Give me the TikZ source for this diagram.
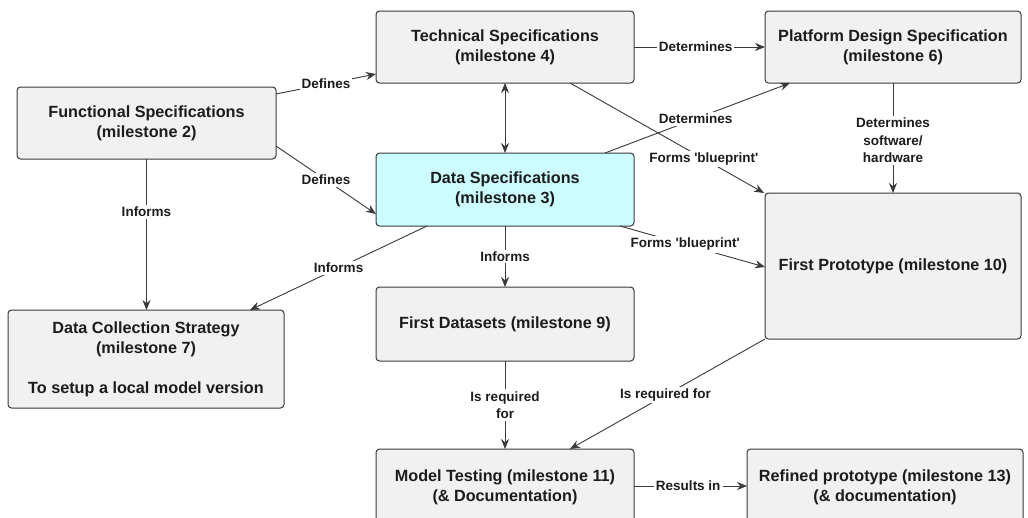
\documentclass[tikz,border=0pt]{standalone}
\usepackage{fontspec}
\setmainfont{Liberation Sans}
\usetikzlibrary{arrows.meta}
\definecolor{boxfill}{HTML}{F1F1F1}
\definecolor{boxline}{HTML}{3A3A3A}
\definecolor{datafill}{HTML}{CCFCFF}
\definecolor{txt}{HTML}{1C1C1C}
\definecolor{conn}{HTML}{3A3A3A}
\tikzset{
  box/.style={draw=boxline, line width=1pt, fill=boxfill, rounded corners=3.5pt,
    inner sep=0pt, outer sep=0pt, align=center, text=txt,
    font=\fontsize{16.2}{20}\selectfont\bfseries},
  conn/.style={draw=conn, line width=0.9pt, -{Stealth[length=10pt,width=8pt]}},
  biconn/.style={draw=conn, line width=0.9pt, {Stealth[length=10pt,width=8pt]}-{Stealth[length=10pt,width=8pt]}},
  lbl/.style={fill=white, inner sep=2pt, align=center, text=txt,
    font=\fontsize{13.5}{17.5}\selectfont\bfseries}
}
\begin{document}
\begin{tikzpicture}[x=1pt,y=-1pt]
\useasboundingbox (0,0) rectangle (1028,517);
\clip (0,0) rectangle (1028,517);
\fill[white] (0,0) rectangle (1028,517);

\node[box, minimum width=259pt, minimum height=72pt] (func) at (146.5,123) {Functional Specifications\\(milestone 2)};
\node[box, minimum width=258pt, minimum height=72pt] (tech) at (505,47) {Technical Specifications\\(milestone 4)};
\node[box, minimum width=256pt, minimum height=72pt] (plat) at (893,47) {Platform Design Specification\\(milestone 6)};
\node[box, fill=datafill, minimum width=258pt, minimum height=73pt] (data) at (505,189.5) {Data Specifications\\(milestone 3)};
\node[box, minimum width=256pt, minimum height=146pt] (proto) at (893,266) {First Prototype (milestone 10)};
\node[box, minimum width=276pt, minimum height=98pt] (dcs) at (146,359) {Data Collection Strategy\\(milestone 7)\\[20pt]To setup a local model version};
\node[box, minimum width=258pt, minimum height=74pt] (fd) at (505,324) {First Datasets (milestone 9)};
\node[box, minimum width=258pt, minimum height=76pt] (mt) at (505,487) {Model Testing (milestone 11)\\(\& Documentation)};
\node[box, minimum width=276pt, minimum height=76pt] (ref) at (885,487) {Refined prototype (milestone 13)\\(\& documentation)};

\draw[conn] ([yshift=29pt]func.east) -- node[lbl, pos=0.5] (l1) {Defines} ([yshift=-27pt]tech.west);
\draw[conn] ([yshift=-23pt]func.east) -- node[lbl, pos=0.5] (l2) {Defines} ([yshift=-24.5pt]data.west);
\draw[conn] (func.south) -- node[lbl, pos=0.35] (l3) {Informs} (dcs.north -| func.south);
\draw[biconn] (tech.south) -- (data.north);
\draw[conn] (tech.east) -- node[lbl, pos=0.47] (l4) {Determines} (plat.west);
\draw[conn] ([xshift=-29pt]data.north east) -- node[lbl, pos=0.49] (l5) {Determines} ([xshift=25pt]plat.south west);
\draw[conn] ([xshift=65pt]tech.south) -- node[lbl, pos=0.69] (l6) {Forms \textquotesingle blueprint\textquotesingle} ([xshift=-1pt]proto.north west);
\draw[conn] (plat.south) -- node[lbl, pos=0.52] (l7) {Determines\\software/\\hardware} (proto.north);
\draw[conn] ([xshift=-14pt]data.south east) -- node[lbl, pos=0.45] (l8) {Forms \textquotesingle blueprint\textquotesingle} ([yshift=-1pt]proto.west);
\draw[conn] ([xshift=51pt]data.south west) -- node[lbl, pos=0.5] (l9) {Informs} ([xshift=-34pt]dcs.north east);
\draw[conn] (data.south) -- node[lbl, pos=0.5] (l10) {Informs} (fd.north);
\draw[conn] (fd.south) -- node[lbl, pos=0.5] (l11) {Is required\\for} (mt.north);
\draw[conn] (proto.south west) -- node[lbl, pos=0.51] (l12) {Is required for} ([xshift=65pt]mt.north);
\draw[conn] ([yshift=1pt]mt.east) -- node[lbl, pos=0.48] (l13) {Results in} ([yshift=1pt]ref.west);
\end{tikzpicture}
\end{document}
